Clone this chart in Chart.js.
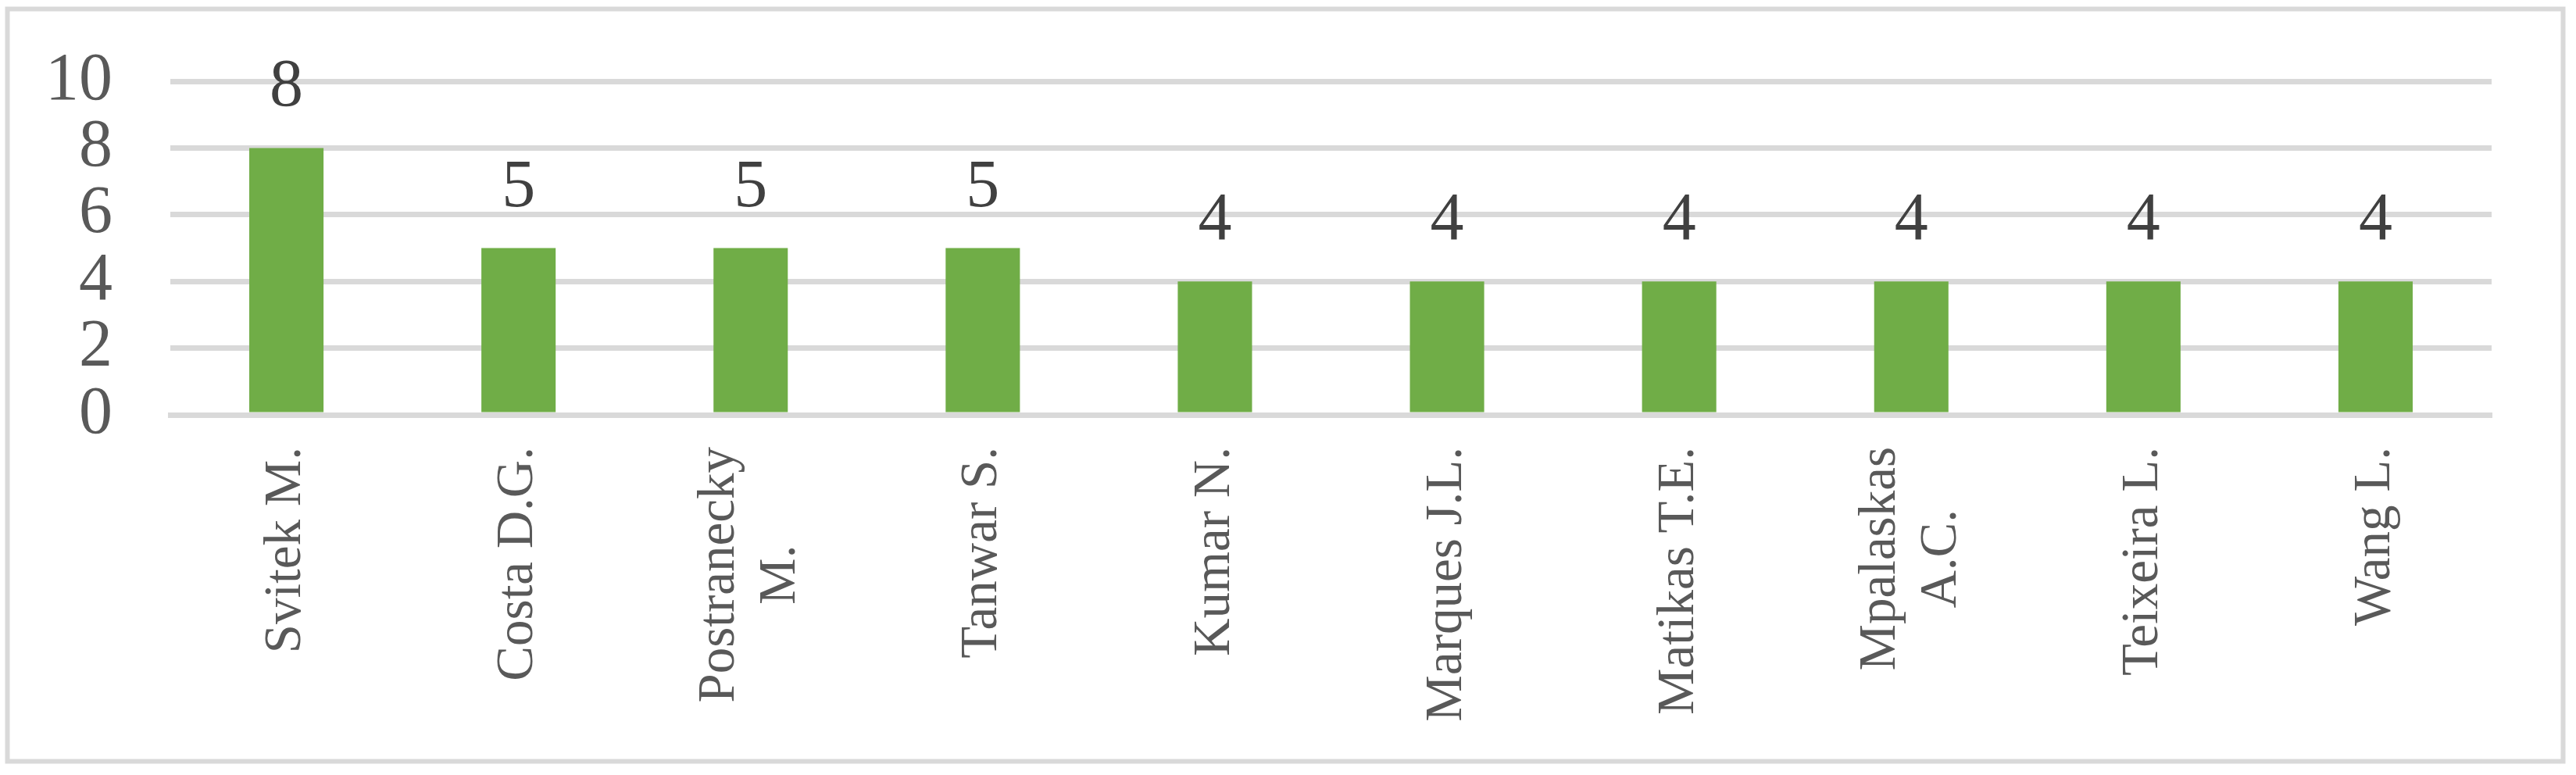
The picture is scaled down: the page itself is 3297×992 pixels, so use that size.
<!DOCTYPE html>
<html>
<head>
<meta charset="utf-8">
<script src="https://cdn.jsdelivr.net/npm/chart.js@4/dist/chart.umd.min.js"></script>
<style>
  html, body { margin: 0; padding: 0; background: #fff; }
  #grafico { display: block; }
</style>
</head>
<body>
<canvas id="grafico" width="3297" height="992"></canvas>
<script>
// autores (linhas de cada rótulo) e número de publicações
const autores = [
    ["Svitek M."],
    ["Costa D.G."],
    ["Postranecky", "M."],
    ["Tanwar S."],
    ["Kumar N."],
    ["Marques J.L."],
    ["Matikas T.E."],
    ["Mpalaskas", "A.C."],
    ["Teixeira L."],
    ["Wang L."]
];
const publicacoes = [8, 5, 5, 5, 4, 4, 4, 4, 4, 4];
const eixoY = { min: 0, max: 10, passo: 2 };

const FONTE = '"Liberation Serif", "Times New Roman", serif';
const CINZA = "#d9d9d9";

const moldura = {
    id: "moldura",
    beforeDraw(chart) {
        const ctx = chart.ctx;
        ctx.save();
        ctx.fillStyle = "#fff";
        ctx.fillRect(0, 0, chart.width, chart.height);
        ctx.strokeStyle = CINZA;
        ctx.lineWidth = 6;
        ctx.strokeRect(9.5, 11.5, 3271, 963);
        ctx.restore();
    }
};

const rotulosValores = {
    id: "rotulosValores",
    afterDatasetsDraw(chart) {
        const ctx = chart.ctx;
        const meta = chart.getDatasetMeta(0);
        ctx.save();
        ctx.font = "86px " + FONTE;
        ctx.fillStyle = "#404040";
        ctx.textAlign = "center";
        ctx.textBaseline = "alphabetic";
        meta.data.forEach((barra, i) => {
            ctx.fillText(String(publicacoes[i]), barra.x, barra.y - 54);
        });
        ctx.restore();
    }
};

const rotulosAutores = {
    id: "rotulosAutores",
    afterDraw(chart) {
        const ctx = chart.ctx;
        const escala = chart.scales.x;
        const topo = escala.top + 41;
        const alturaLinha = 78;
        ctx.save();
        ctx.font = "67px " + FONTE;
        ctx.fillStyle = "#595959";
        ctx.textAlign = "center";
        ctx.textBaseline = "middle";
        autores.forEach((linhas, i) => {
            const px = escala.getPixelForTick(i);
            const largura = Math.max(...linhas.map(t => ctx.measureText(t).width));
            ctx.save();
            ctx.translate(px, topo);
            ctx.rotate(-Math.PI / 2);
            linhas.forEach((t, j) => {
                ctx.fillText(t, -largura / 2, (j - (linhas.length - 1) / 2) * alturaLinha);
            });
            ctx.restore();
        });
        ctx.restore();
    }
};

new Chart(document.getElementById("grafico"), {
    type: "bar",
    data: {
        labels: autores,
        datasets: [{
            data: publicacoes,
            backgroundColor: "#70ad47",
            borderWidth: 0,
            barPercentage: 0.32,
            categoryPercentage: 1
        }]
    },
    options: {
        responsive: false,
        animation: false,
        devicePixelRatio: 1,
        layout: { padding: { top: 101, right: 108, bottom: 0, left: 0 } },
        plugins: { legend: { display: false }, tooltip: { enabled: false } },
        scales: {
            x: {
                grid: { display: false },
                border: { display: true, color: CINZA, width: 7, z: 1 },
                ticks: { display: false },
                afterFit(s) { s.height = 461; }
            },
            y: {
                min: eixoY.min,
                max: eixoY.max,
                grid: { color: CINZA, lineWidth: 7, drawTicks: false },
                border: { display: false },
                ticks: {
                    stepSize: eixoY.passo,
                    padding: 74,
                    color: "#595959",
                    font: { family: FONTE, size: 86, lineHeight: 0.7 }
                },
                afterFit(s) { s.width = 218; }
            }
        }
    },
    plugins: [moldura, rotulosValores, rotulosAutores]
});
</script>
</body>
</html>
